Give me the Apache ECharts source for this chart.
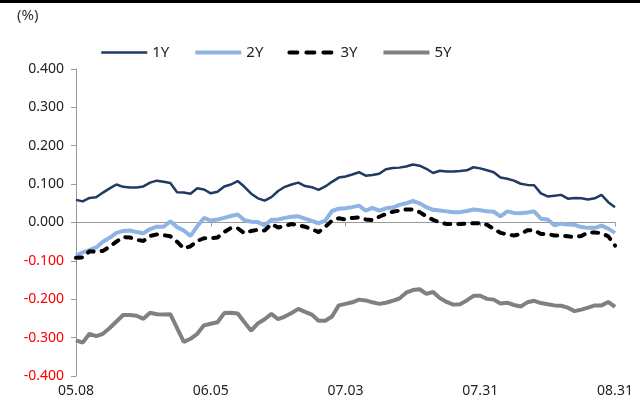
<!DOCTYPE html>
<html><head><meta charset="utf-8">
<script src="https://cdn.jsdelivr.net/npm/echarts@6/dist/echarts.min.js"></script>
<style>html,body{margin:0;padding:0;background:#fff}#c{width:640px;height:405px}</style>
</head><body><div id="c"></div>
<script>
var categories = ['05.08','05.09','05.10','05.11','05.12','05.15','05.16','05.17','05.18','05.19','05.22','05.23','05.24','05.25','05.26','05.29','05.30','05.31','06.01','06.02',
'06.05','06.06','06.07','06.08','06.09','06.12','06.13','06.14','06.15','06.16','06.19','06.20','06.21','06.22','06.23','06.26','06.27','06.28','06.29','06.30',
'07.03','07.04','07.05','07.06','07.07','07.10','07.11','07.12','07.13','07.14','07.17','07.18','07.19','07.20','07.21','07.24','07.25','07.26','07.27','07.28',
'07.31','08.01','08.03','08.04','08.07','08.08','08.09','08.10','08.11','08.16','08.17','08.18','08.21','08.22','08.23','08.24','08.25','08.28','08.29','08.30',
'08.31'];
var y1 = [0.059,0.055,0.064,0.066,0.078,0.089,0.099,0.093,0.091,0.091,0.094,0.104,0.109,0.106,0.103,0.079,0.078,0.075,0.089,0.086,
0.076,0.080,0.094,0.099,0.108,0.093,0.075,0.063,0.057,0.066,0.082,0.093,0.099,0.104,0.095,0.092,0.085,0.094,0.106,0.117,
0.120,0.125,0.131,0.122,0.124,0.127,0.139,0.142,0.143,0.146,0.151,0.148,0.140,0.129,0.135,0.133,0.133,0.134,0.136,0.144,
0.141,0.136,0.131,0.117,0.114,0.109,0.101,0.098,0.097,0.076,0.068,0.070,0.072,0.062,0.064,0.063,0.060,0.063,0.072,0.053,
0.040];
var y2 = [-0.086,-0.078,-0.072,-0.065,-0.050,-0.040,-0.027,-0.022,-0.021,-0.025,-0.028,-0.017,-0.011,-0.011,0.003,-0.012,-0.021,-0.035,-0.010,0.012,
0.005,0.008,0.012,0.017,0.021,0.006,0.002,0.001,-0.008,0.007,0.008,0.012,0.015,0.016,0.010,0.004,-0.002,0.005,0.030,0.036,
0.037,0.040,0.044,0.031,0.038,0.031,0.037,0.039,0.046,0.050,0.056,0.050,0.040,0.033,0.031,0.029,0.027,0.027,0.030,0.034,
0.032,0.029,0.028,0.016,0.029,0.025,0.024,0.026,0.029,0.010,0.008,-0.007,-0.003,-0.005,-0.006,-0.012,-0.014,-0.014,-0.008,-0.016,
-0.027];
var y3 = [-0.092,-0.091,-0.075,-0.076,-0.074,-0.063,-0.050,-0.038,-0.039,-0.045,-0.048,-0.035,-0.031,-0.033,-0.036,-0.050,-0.068,-0.062,-0.048,-0.041,
-0.041,-0.039,-0.025,-0.014,-0.015,-0.028,-0.022,-0.019,-0.021,-0.004,-0.013,-0.009,-0.004,-0.007,-0.011,-0.017,-0.025,-0.011,0.005,0.011,
0.008,0.012,0.013,0.008,0.006,0.015,0.022,0.028,0.031,0.034,0.034,0.027,0.016,0.007,0.000,-0.004,-0.004,-0.004,-0.003,-0.002,
-0.002,-0.006,-0.017,-0.027,-0.031,-0.034,-0.030,-0.020,-0.020,-0.030,-0.030,-0.034,-0.034,-0.036,-0.038,-0.035,-0.026,-0.026,-0.028,-0.036,
-0.060];
var y5 = [-0.307,-0.313,-0.290,-0.296,-0.290,-0.275,-0.258,-0.241,-0.241,-0.243,-0.251,-0.235,-0.239,-0.240,-0.239,-0.275,-0.311,-0.303,-0.290,-0.268,
-0.264,-0.260,-0.236,-0.235,-0.237,-0.260,-0.282,-0.263,-0.252,-0.238,-0.252,-0.245,-0.236,-0.225,-0.233,-0.240,-0.256,-0.256,-0.245,-0.216,
-0.212,-0.208,-0.201,-0.203,-0.208,-0.212,-0.209,-0.204,-0.198,-0.183,-0.176,-0.174,-0.186,-0.181,-0.197,-0.207,-0.214,-0.213,-0.203,-0.191,
-0.191,-0.199,-0.201,-0.211,-0.209,-0.215,-0.219,-0.208,-0.204,-0.210,-0.213,-0.216,-0.217,-0.222,-0.231,-0.227,-0.222,-0.216,-0.216,-0.207,
-0.220];
var seriesNames = ['1Y','2Y','3Y','5Y'];

var font = 'Noto Sans, sans-serif';
var colors = ['#1f3b63', '#8db4e2', '#000000', '#808080'];
var widths = [2.5, 4, 4, 4];
var dash = [6, 8];
var chart = echarts.init(document.getElementById('c'));
function mk(i, data) {
  var t = i === 2 ? dash : 'solid';
  return {name: seriesNames[i], type: 'line', data: data, xAxisIndex: 0, showSymbol: false, symbol: 'none',
    lineStyle: {color: colors[i], width: widths[i], type: t, cap: i === 2 ? 'round' : 'butt'},
    itemStyle: {color: colors[i]}, animation: false};
}
chart.setOption({
  animation: false,
  textStyle: {fontFamily: font},
  grid: {left: 76, right: 25, top: 69, bottom: 29, containLabel: false},
  graphic: [
    {type: 'rect', shape: {x: 0, y: 0, width: 640, height: 3}, style: {fill: '#000'}},
    {type: 'text', left: 17, top: 8, style: {text: '(%)', font: '15px Noto Sans', fill: '#333'}}
  ],
  legend: {left: 95, top: 40, itemWidth: 46, itemHeight: 14, itemGap: 24,
    itemStyle: {opacity: 0},
    textStyle: {fontSize: 15, color: '#222', fontFamily: font},
    data: seriesNames.map(function (n, i) {
      return {name: n, lineStyle: {width: widths[i], color: colors[i], type: i === 2 ? [8, 9] : 'solid', cap: i === 2 ? 'round' : 'butt'}};
    })},
  xAxis: [
    {type: 'category', data: categories, boundaryGap: false, position: 'bottom',
      axisLine: {show: false, onZero: false}, axisTick: {show: false},
      axisLabel: {interval: 19, color: '#222', fontSize: 14, margin: 8, fontFamily: font}, splitLine: {show: false}},
    {type: 'category', data: categories, boundaryGap: false, position: 'bottom',
      axisLine: {show: true, onZero: true, lineStyle: {color: '#999', width: 1}},
      axisTick: {show: true, interval: 19, length: 4, lineStyle: {color: '#999'}},
      axisLabel: {show: false}, splitLine: {show: false}}
  ],
  yAxis: {type: 'value', min: -0.4, max: 0.4, interval: 0.1,
    axisLine: {show: true, lineStyle: {color: '#999'}},
    axisTick: {show: true, length: 5, lineStyle: {color: '#999'}},
    splitLine: {show: false},
    axisLabel: {fontSize: 14, margin: 12, fontFamily: font,
      formatter: function (v) { return v.toFixed(3); },
      color: function (v) { return Number(v) < -1e-9 ? '#ff0000' : '#222'; }}},
  series: [mk(0, y1), mk(1, y2), mk(2, y3), mk(3, y5)]
});
</script></body></html>
